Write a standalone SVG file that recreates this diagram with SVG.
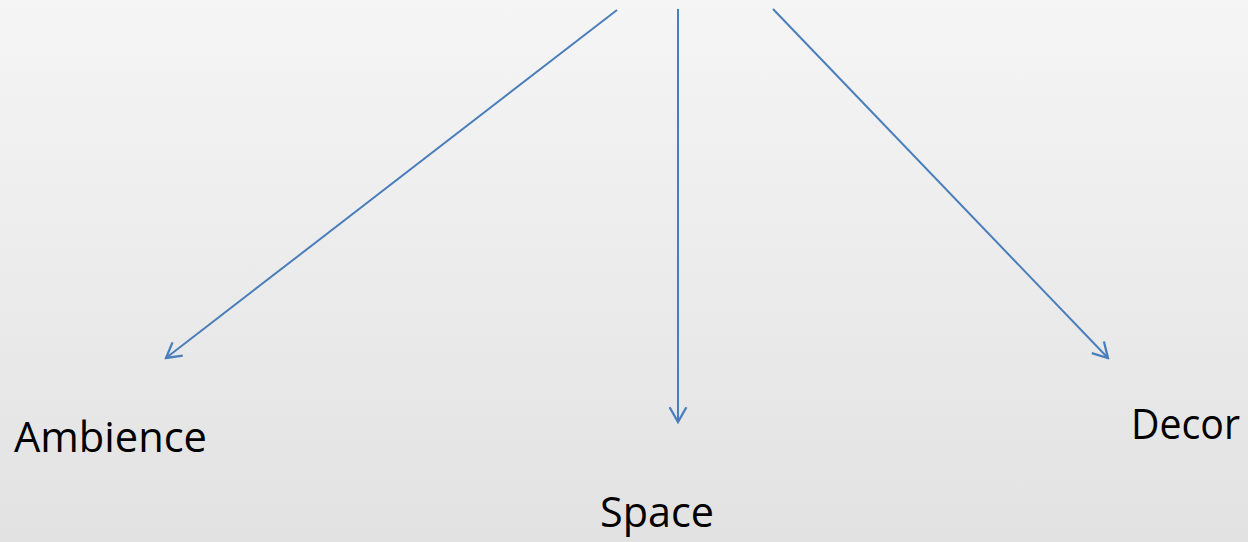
<svg xmlns="http://www.w3.org/2000/svg" width="1248" height="542" viewBox="0 0 1248 542">
<defs>
<linearGradient id="bg" x1="0" y1="0" x2="0" y2="1">
<stop offset="0" stop-color="#f5f5f5"/>
<stop offset="1" stop-color="#e2e2e2"/>
</linearGradient>
<marker id="arr" viewBox="0 0 20 20" refX="18" refY="10" markerWidth="21" markerHeight="21" markerUnits="userSpaceOnUse" orient="auto">
<path d="M4,2 L18,10 L4,18" fill="none" stroke="#4a7ebb" stroke-width="2.2" stroke-linejoin="miter"/>
</marker>
</defs>
<style>
.lbl{font-family:"Open Sans","Liberation Sans",sans-serif;font-size:42px;fill:#000}
.con{stroke:#4a7ebb;stroke-width:2;fill:none;marker-end:url(#arr)}
</style>
<rect width="1248" height="542" fill="url(#bg)"/>
<g id="connectors">
<line class="con" x1="617" y1="10" x2="166" y2="358"/>
<line class="con" x1="678" y1="9" x2="678" y2="422"/>
<line class="con" x1="773" y1="9" x2="1108" y2="358"/>
</g>
<g id="ambience"><text class="lbl" x="14" y="452" textLength="193" lengthAdjust="spacingAndGlyphs">Ambience</text></g>
<g id="space"><text class="lbl" x="600" y="527" textLength="114" lengthAdjust="spacingAndGlyphs">Space</text></g>
<g id="decor"><text class="lbl" x="1131" y="439" textLength="109" lengthAdjust="spacingAndGlyphs">Decor</text></g>
</svg>
